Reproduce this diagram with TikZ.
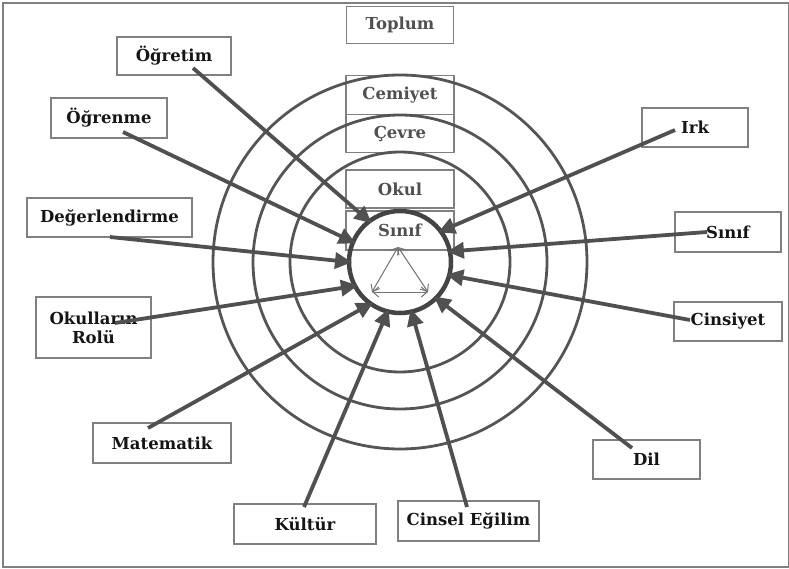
\documentclass[tikz,border=0pt]{standalone}
\usepackage{fontspec}
\setmainfont{DejaVu Serif}
\usetikzlibrary{arrows.meta}
\definecolor{ringc}{HTML}{555555}
\definecolor{boxc}{HTML}{808080}
\definecolor{innertext}{HTML}{505050}
\definecolor{outertext}{HTML}{151515}
\definecolor{arrc}{HTML}{505050}
\tikzset{
  lbl/.style={draw=boxc, line width=1.1pt, inner sep=0pt, align=center,
    font=\fontsize{16.5}{19}\selectfont\bfseries, text=outertext},
  inlbl/.style={lbl, text=innertext},
  ring/.style={draw=ringc, line width=2.8pt},
  bigarrow/.style={draw=arrc, line width=3.8pt, shorten >=-3pt,
    -{Triangle[length=17pt,width=16pt]}},
  tri/.style={draw=arrc!80, line width=1pt,
    {Straight Barb[length=6pt,width=10pt]}-{Straight Barb[length=6pt,width=10pt]}}
}
\begin{document}
\begin{tikzpicture}[x=1pt,y=-1pt]
\useasboundingbox (0,0) rectangle (789,569);
\draw[boxc, line width=1.5pt] (3,3) rectangle (789,567);
% inner labelled boxes
\node[inlbl, minimum width=107pt, minimum height=37pt] (toplum) at (400,25) {Toplum};
\node[inlbl, minimum width=108pt, minimum height=39pt] (cemiyet) at (400,95) {Cemiyet};
\node[inlbl, minimum width=108pt, minimum height=38pt] (cevre) at (400,133.5) {Çevre};
\node[inlbl, minimum width=108pt, minimum height=38pt] (okul) at (400,189) {Okul};
\node[inlbl, minimum width=108pt, minimum height=39pt] (sinifin) at (400,230.5) {Sınıf};
% outer labels
\node[lbl, minimum width=114pt, minimum height=38pt] (ogretim) at (174,56) {Öğretim};
\node[lbl, minimum width=116pt, minimum height=40pt] (ogrenme) at (109,118) {Öğrenme};
\node[lbl, minimum width=165pt, minimum height=39pt] (deger) at (109.5,217.5) {Değerlendirme};
\node[lbl, minimum width=115pt, minimum height=61pt] (rolu) at (93.5,327.5) {Okulların\\Rolü};
\node[lbl, minimum width=106pt, minimum height=39pt] (irk) at (695,127.5) {Irk};
\node[lbl, minimum width=106pt, minimum height=40pt] (sinif) at (728,232) {Sınıf};
\node[lbl, minimum width=108pt, minimum height=39pt] (cins) at (728,321.5) {Cinsiyet};
\node[lbl, minimum width=138pt, minimum height=40pt] (mat) at (162,443) {Matematik};
\node[lbl, minimum width=142pt, minimum height=40pt] (kultur) at (305,524) {Kültür};
\node[lbl, minimum width=141pt, minimum height=40pt] (egilim) at (468.5,521) {Cinsel Eğilim};
\node[lbl, minimum width=107pt, minimum height=39pt] (dil) at (646.5,459.5) {Dil};
% rings
\coordinate (c) at (400,262);
\draw[ring] (c) circle[radius=187];
\draw[ring] (c) circle[radius=147];
\draw[ring] (c) circle[radius=110];
\node[draw=ringc!80!black, line width=4.5pt, circle, minimum size=102pt, inner sep=0pt, outer sep=0pt] (inner) at (c) {};
% triangle
\coordinate (ta) at (398,247);
\coordinate (tl) at (372,292);
\coordinate (tr) at (428,292);
\draw[tri] (ta) -- (tl);
\draw[tri] (ta) -- (tr);
\draw[tri] (tl) -- (tr);
% arrow start points
\coordinate (s1) at (193,68);
\coordinate (s2) at (123,132);
\coordinate (s3) at (110,237);
\coordinate (s4) at (115,323);
\coordinate (s5) at (148,428);
\coordinate (s6) at (304,507);
\coordinate (s7) at (467,507);
\coordinate (s8) at (632,448);
\coordinate (s9) at (690,320);
\coordinate (s10) at (707,232);
\coordinate (s11) at (675,130);
\draw[bigarrow] (s1) -- (inner.127);
\draw[bigarrow] (s2) -- (inner.157);
\draw[bigarrow] (s3) -- (inner.180);
\draw[bigarrow] (s4) -- (inner.208);
\draw[bigarrow] (s5) -- (inner.235);
\draw[bigarrow] (s6) -- (inner.256);
\draw[bigarrow] (s7) -- (inner.283);
\draw[bigarrow] (s8) -- (inner.315);
\draw[bigarrow] (s9) -- (inner.345);
\draw[bigarrow] (s10) -- (inner.12);
\draw[bigarrow] (s11) -- (inner.37);
\end{tikzpicture}
\end{document}
